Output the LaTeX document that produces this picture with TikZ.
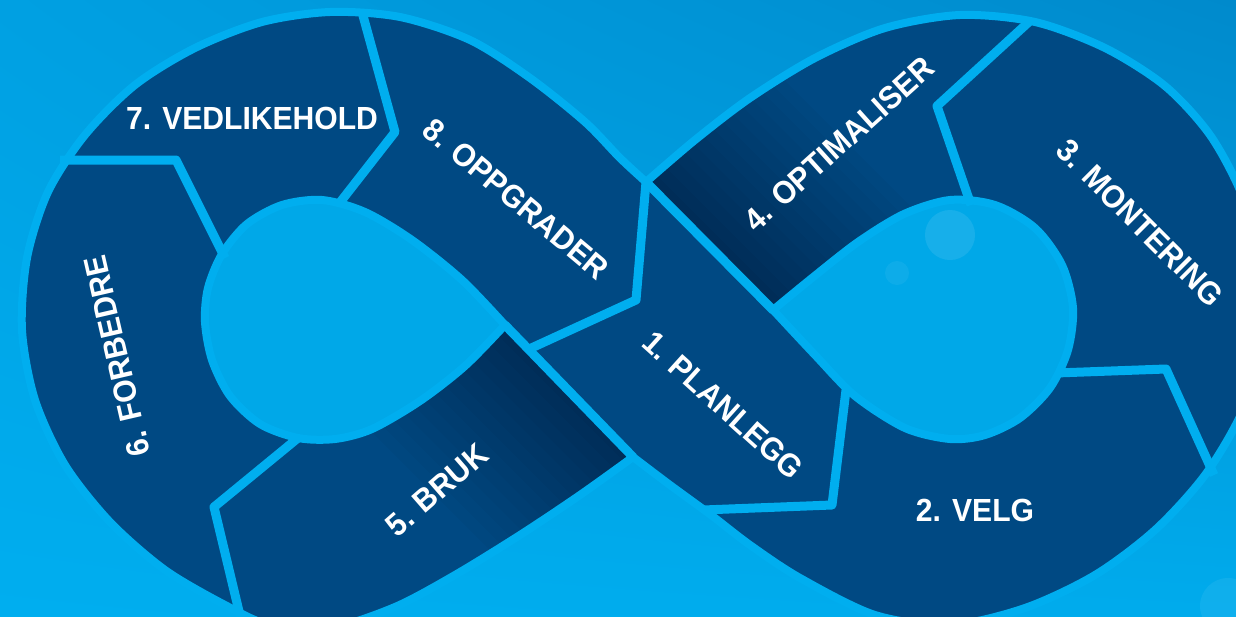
\documentclass[tikz,border=0pt]{standalone}
\usepackage{fontspec}
\setmainfont{Liberation Sans}[FakeStretch=0.94]
\usetikzlibrary{shadings}
\begin{document}
\begin{tikzpicture}[x=1pt,y=-1pt]
\definecolor{navy}{RGB}{0,73,131}
\definecolor{skyband}{RGB}{0,174,239}
\definecolor{skydark}{RGB}{0,138,204}
\definecolor{skymid}{RGB}{0,160,226}
\definecolor{holefill}{RGB}{0,168,232}
\tikzset{
  sepline/.style={draw=skyband, line width=9pt, line join=round},
  lbl/.style={text=white, font=\bfseries\fontsize{32}{32}\selectfont, inner sep=0pt, anchor=center},
  shadowstrip/.style={fill=black, opacity=0.025},
}
\def\ctrOuter{(646,182) -- plot[smooth] coordinates {(646,182) (695,140) (750,98) (815,58) (885,28) (960,15) (1035,22) (1105,48) (1165,86) (1210,135) (1242,195) (1262,265) (1262,345) (1242,412) (1205,475) (1155,530) (1095,575) (1025,608) (950,625) (875,615) (800,578) (750,545) (711,515) (670,485) (633,457)}
 -- plot[smooth] coordinates {(633,457) (580,495) (520,535) (455,575) (395,607) (330,628) (270,625) (225,605) (165,570) (110,522) (65,465) (35,400) (22,330) (27,258) (48,192) (85,135) (135,85) (195,48) (262,22) (330,12) (400,17) (470,40) (530,78) (585,122) (620,158) (646,182)} -- cycle}
\def\ctrHoleL{(505,325) -- plot[smooth] coordinates {(505,325) (462,280) (412,240) (365,212) (322,200) (282,205) (247,224) (222,254) (208,288) (205,322) (212,360) (230,396) (260,424) (298,438) (335,439) (372,429) (420,401) (465,366) (505,325)} -- cycle}
\def\ctrHoleR{(773,310) -- plot[smooth] coordinates {(773,310) (812,278) (858,242) (904,214) (950,200) (995,205) (1035,228) (1062,265) (1073,308) (1068,350) (1050,388) (1020,418) (985,435) (950,439) (905,428) (855,396) (815,355) (773,310)} -- cycle}

\useasboundingbox (0,0) rectangle (1236,616);
\clip (0,0) rectangle (1236,616);
% background
\shade[upper left=skymid, upper right=skydark, lower left=skyband, lower right=skyband!92!skydark] (0,0) rectangle (1236,616);

% crossing points
\coordinate (T) at (646,182);
\coordinate (B) at (633,457);
\coordinate (L) at (505,325);
\coordinate (R) at (773,310);

% band
\fill[navy] \ctrOuter;

% shadows under the upper strand
\begin{scope}
  \clip \ctrOuter;
  \begin{scope}
    \clip (L) -- (B) -- (560,700) -- (300,700) -- (298,438) -- (420,401) -- cycle;
    \begin{scope}[shift={(L)}, rotate=-45]
      \foreach \i in {1,...,14} \fill[shadowstrip] (-200,0) rectangle (230,{170*\i/14});
    \end{scope}
  \end{scope}
  \begin{scope}
    \clip (T) -- (R) -- (900,220) -- (1031,20) -- (1000,-20) -- (700,-20) -- cycle;
    \begin{scope}[shift={(T)}, rotate=-45]
      \foreach \i in {1,...,14} \fill[shadowstrip] (-50,0) rectangle (230,{-170*\i/14});
    \end{scope}
  \end{scope}
\end{scope}

% holes
\fill[holefill] \ctrHoleL;
\fill[holefill] \ctrHoleR;
\draw[skyband, line width=8pt] \ctrHoleL;
\draw[skyband, line width=8pt] \ctrHoleR;
\draw[skyband, line width=8pt] \ctrOuter;

% borders of the upper strand at the crossing
\draw[sepline, line cap=round] (T) -- (R);
\draw[sepline, line cap=round] (L) -- (B);

% separators (chevrons)
\draw[sepline] (T) -- (636,300) -- (527,350);
\draw[sepline] (846,390) -- (832,505) -- (703,510);
\draw[sepline] (1056,373) -- (1166,369) -- (1214,475);
\draw[sepline] (1031,20) -- (937,106) -- (971,205);
\draw[sepline] (298,438) -- (214,507) -- (243,628);
\draw[sepline] (60,160) -- (176,160) -- (225,258);
\draw[sepline] (362,12) -- (395,132) -- (338,205);

% soft highlights
\fill[white, opacity=0.09] (950,235) circle (25);
\fill[white, opacity=0.05] (897,273) circle (12);
\fill[white, opacity=0.06] (1228,606) circle (28);

% labels
\node[lbl] (t7) at (252,118) {7. VEDLIKEHOLD};
\node[lbl, rotate=-40] (t8) at (516,199) {8. OPPGRADER};
\node[lbl, rotate=-42] (t1) at (723,405) {1. PLANLEGG};
\node[lbl] (t2) at (975,510) {2. VELG};
\node[lbl, rotate=-45] (t3) at (1140,223) {3. MONTERING};
\node[lbl, rotate=42] (t4) at (839,144) {4. OPTIMALISER};
\node[lbl, rotate=41] (t5) at (437,490) {5. BRUK};
\node[lbl, rotate=103] (t6) at (117,356) {6. FORBEDRE};
\end{tikzpicture}
\end{document}
